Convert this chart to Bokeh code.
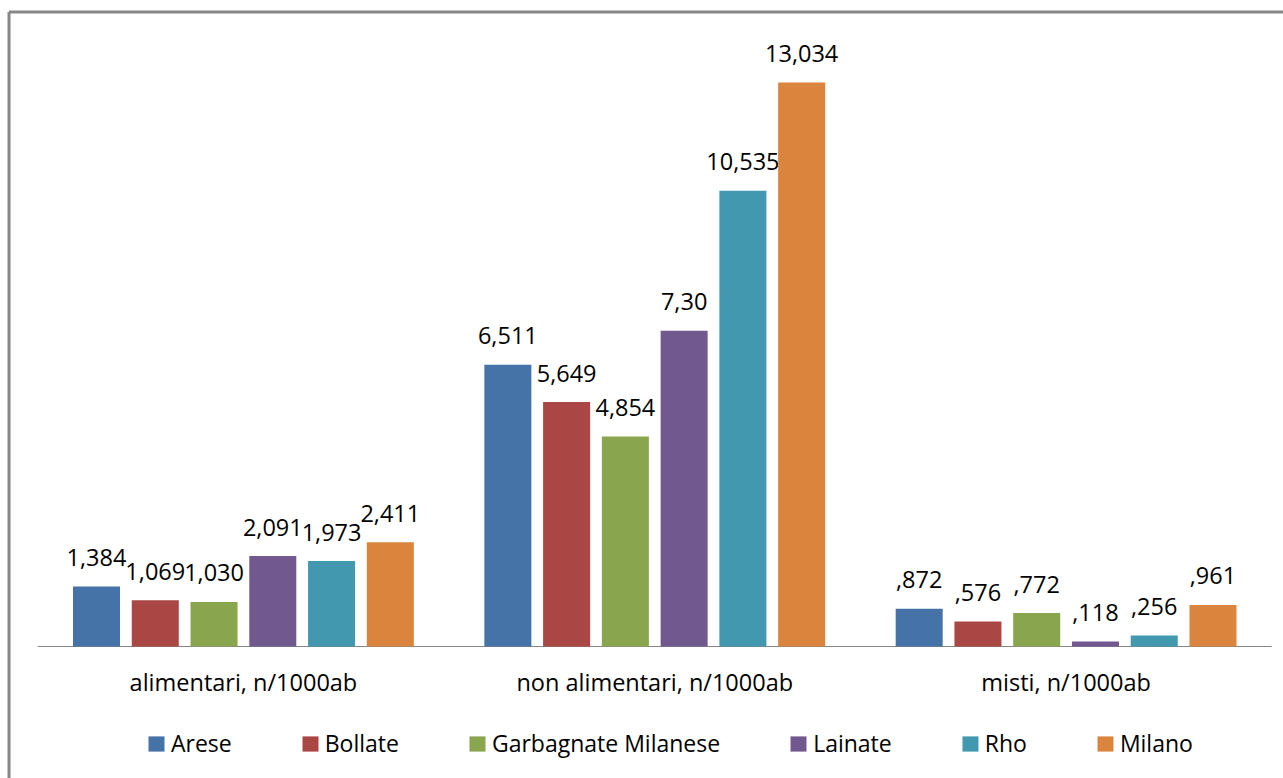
from bokeh.plotting import figure
from bokeh.models import ColumnDataSource, Range1d
from bokeh.core.properties import value
from bokeh.embed import file_html
from bokeh.resources import INLINE

# Shop density per 1000 inhabitants, by type of shop and municipality
categories = ["alimentari, n/1000ab", "non alimentari, n/1000ab", "misti, n/1000ab"]
cities = ["Arese", "Bollate", "Garbagnate Milanese", "Lainate", "Rho", "Milano"]
colors = ["#4572A7", "#AA4643", "#89A54E", "#71588F", "#4198AF", "#DB843D"]

arese = [1.384, 6.511, 0.872]
bollate = [1.069, 5.649, 0.576]
garbagnate = [1.030, 4.854, 0.772]
lainate = [2.091, 7.30, 0.118]
rho = [1.973, 10.535, 0.256]
milano = [2.411, 13.034, 0.961]

arese_labels = ["1,384", "6,511", ",872"]
bollate_labels = ["1,069", "5,649", ",576"]
garbagnate_labels = ["1,030", "4,854", ",772"]
lainate_labels = ["2,091", "7,30", ",118"]
rho_labels = ["1,973", "10,535", ",256"]
milano_labels = ["2,411", "13,034", ",961"]

series = [arese, bollate, garbagnate, lainate, rho, milano]
series_labels = [arese_labels, bollate_labels, garbagnate_labels,
                 lainate_labels, rho_labels, milano_labels]

FONT = value("Open Sans")
n = len(cities)
step = n + 1  # one empty slot between groups

p = figure(width=1283, height=778,
           x_range=Range1d(-1.134, 20.70), y_range=Range1d(-3.051, 14.930),
           x_axis_location=None, y_axis_location=None,
           toolbar_location=None, output_backend="svg",
           min_border=0, min_border_left=0, min_border_right=0,
           min_border_top=0, min_border_bottom=0)
p.outline_line_color = None
p.background_fill_color = "white"
p.border_fill_color = "white"
p.xgrid.visible = False
p.ygrid.visible = False

# chart border (top and left edges)
p.segment(x0=[-0.989, -0.989], y0=[14.664, 14.664], x1=[30, -0.989], y1=[14.664, -10],
          line_color="#878787", line_width=3)

# category baseline
first_x = 0.5
last_x = (len(categories) - 1) * step + n - 0.5
p.segment(x0=[first_x - 1], y0=[0], x1=[last_x + 1], y1=[0],
          line_color="#868686", line_width=1)

for i, (name, vals, labs, col) in enumerate(zip(cities, series, series_labels, colors)):
    xs = [g * step + i + 0.5 for g in range(len(categories))]
    src = ColumnDataSource(dict(x=xs, top=vals, lab=labs))
    p.vbar(x="x", top="top", bottom=0, width=0.8, source=src,
           fill_color=col, line_color=None, legend_label=name)
    p.text(x="x", y="top", text="lab", source=src, text_align="center",
           text_baseline="alphabetic", y_offset=-29, text_font=FONT,
           text_font_size="23.5px", text_color="#000000")

# category labels under the baseline
cat_src = ColumnDataSource(dict(x=[g * step + (n - 1) / 2 + 0.5 for g in range(len(categories))],
                                y=[0] * len(categories), t=categories))
p.text(x="x", y="y", text="t", source=cat_src, text_align="center",
       text_baseline="alphabetic", y_offset=36, text_font=FONT,
       text_font_size="23.5px", text_color="#000000")

leg = p.legend[0]
leg.orientation = "horizontal"
leg.location = (146, 19)
leg.padding = 0
leg.margin = 0
leg.spacing = 68
leg.glyph_width = 20
leg.glyph_height = 19
leg.label_standoff = 5
leg.border_line_color = None
leg.background_fill_alpha = 0
leg.label_text_font = "Open Sans"
leg.label_text_font_size = "23px"
leg.label_text_color = "#000000"

open("out.html", "w").write(file_html(p, INLINE))
